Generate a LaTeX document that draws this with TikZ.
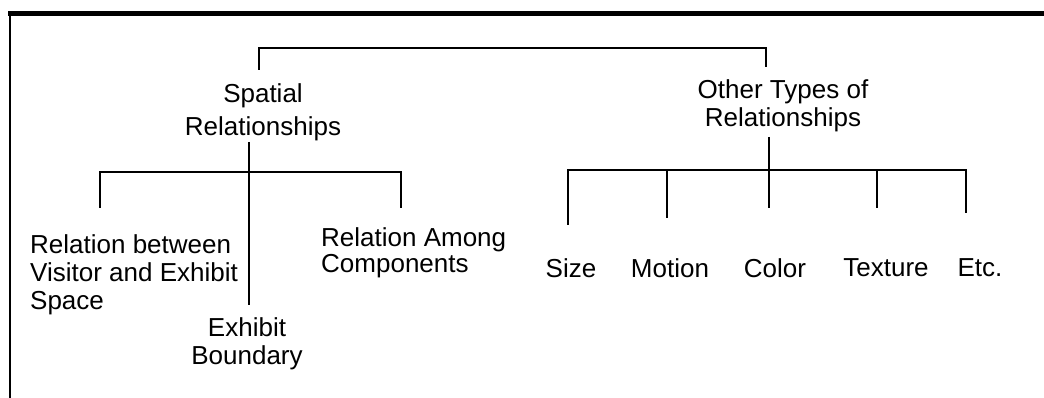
\documentclass[tikz,border=0pt]{standalone}
\usepackage{fontspec}
\setmainfont{Liberation Sans}
\usetikzlibrary{calc}
\begin{document}
\begin{tikzpicture}[x=1pt,y=-1pt,
  label/.style={inner sep=0pt, font=\fontsize{26}{28}\selectfont},
  tree/.style={line width=2pt, black}]
\useasboundingbox (0,0) rectangle (1044,398);

% frame: heavy rule along the top, thin rule down the left
\draw[line width=5pt] (8,14) -- (1044,14);
\draw[line width=2pt] (10,12) -- (10,398);

% category headings
\node[label, anchor=north, align=center, font=\fontsize{26}{33}\selectfont] (spatial) at (263,83) {Spatial\\Relationships};
\node[label, anchor=north, align=center, font=\fontsize{26}{28}\selectfont] (other) at (783,79) {Other Types of\\Relationships};

% spatial subtypes
\node[label, anchor=north west, align=left] (visitor) at (30,234) {Relation between\\Visitor and Exhibit\\Space};
\node[label, anchor=north, align=center] (boundary) at (247,317) {Exhibit\\Boundary};
\node[label, anchor=north west, align=left, font=\fontsize{26}{26}\selectfont] (among) at (321,227) {Relation Among\\Components};

% other subtypes
\node[label, anchor=north] (size) at (571,258) {Size};
\node[label, anchor=north] (motion) at (670,258) {Motion};
\node[label, anchor=north] (color) at (775,258) {Color};
\node[label, anchor=north] (texture) at (886,258) {Texture};
\node[label, anchor=north] (etc) at (980,258) {Etc.};

% top bracket joining the two headings
\draw[tree] ($(spatial.north)+(-4,-13)$) |- ($(other.north)+(-17,-31)$) -- ($(other.north)+(-17,-12)$);

% spatial branch
\draw[tree] ($(spatial.north -| boundary.north)+(2,59)$) -- ($(boundary.north)+(2,-12)$);
\draw[tree] ($(visitor.north west)+(70,-26)$) |- ($(spatial.north)+(0,89)$) -| ($(among.north west)+(80,-19)$);

% other branch
\draw[tree] ($(other.north)+(-14,58)$) -- ($(color.north)+(-6,-50)$);
\draw[tree] ($(size.north)+(-3,-33)$) |- ($(other.north)+(0,91)$) -| ($(etc.north)+(-14,-45)$);
\draw[tree] ($(motion.north)+(-3,-40)$) -- ++(0,-48);
\draw[tree] ($(texture.north)+(-9,-50)$) -- ++(0,-38);
\end{tikzpicture}
\end{document}
